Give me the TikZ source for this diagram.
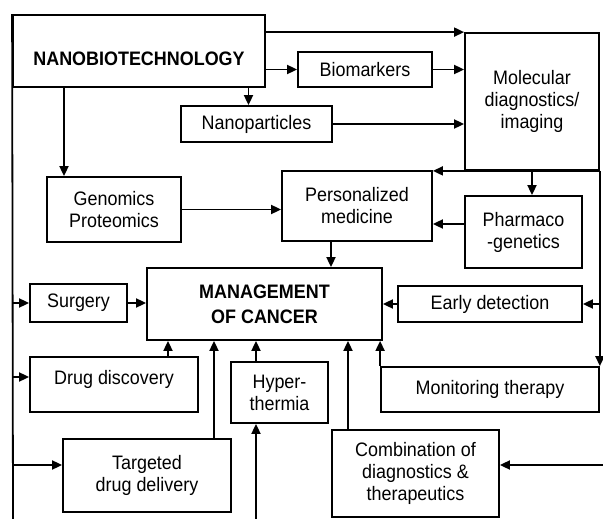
\documentclass[tikz,border=0pt]{standalone}
\usepackage{fontspec}
\setmainfont{Liberation Sans}[FakeStretch=0.92]
\usetikzlibrary{arrows.meta}

\begin{document}
\begin{tikzpicture}[x=1pt, y=-1pt,
  every node/.style={font=\fontsize{19.5}{22}\selectfont, align=center, inner sep=0pt},
  box/.style={draw, line width=1.8pt, rectangle},
  arr/.style={-{Triangle[length=10pt, width=9pt]}, line width=1.8pt},
  plain/.style={line width=1.8pt},
]
\useasboundingbox (0,0) rectangle (603,519);

% === Top row ===
\node[box, minimum width=252pt, minimum height=72pt, text height=30pt, text depth=0pt,
      font=\fontsize{19.5}{22}\selectfont\bfseries]
      (nano) at (139,51) {NANOBIOTECHNOLOGY};
\node[box, minimum width=134pt, minimum height=35pt] (bio) at (365,69.5) {Biomarkers};
\node[box, minimum width=151pt, minimum height=36pt] (np) at (256.5,124) {Nanoparticles};
\node[box, minimum width=134pt, minimum height=137pt]
      (mol) at (532,101.5) {Molecular\\diagnostics/\\imaging};

% === Middle row ===
\node[box, minimum width=134pt, minimum height=65pt] (gen) at (114,209.5) {Genomics\\Proteomics};
\node[box, minimum width=150pt, minimum height=70pt] (pers) at (357,206) {Personalized\\medicine};
\node[box, minimum width=117pt, minimum height=72pt] (pharm) at (523.5,232) {Pharmaco\\-genetics};

% === Management row ===
\node[box, minimum width=235pt, minimum height=72pt, font=\fontsize{19.5}{25}\selectfont\bfseries]
      (mgmt) at (264.5,304) {MANAGEMENT\\OF CANCER};
\node[box, minimum width=97pt, minimum height=38pt] (surg) at (78.5,303) {Surgery};
\node[box, minimum width=184pt, minimum height=36pt] (early) at (490,304) {Early detection};

% === Lower rows ===
\node[box, minimum width=168pt, minimum height=55pt, text height=14pt, text depth=14pt]
      (drug) at (114,384.5) {Drug discovery};
\node[box, minimum width=97pt, minimum height=61pt] (hyper) at (279.5,392.5) {Hyper-\\thermia};
\node[box, minimum width=218pt, minimum height=45pt] (mon) at (490,389.5) {Monitoring therapy};
\node[box, minimum width=168pt, minimum height=73pt] (targ) at (147,475.5) {Targeted\\drug delivery};
\node[box, minimum width=167pt, minimum height=87pt]
      (comb) at (415.5,473.5) {Combination of\\diagnostics \&\\therapeutics};

% === Free ends ===
\coordinate (lb) at (13,519);
\coordinate (hb) at (256,519);
\coordinate (re) at (603,465);

% === Arrows: nanobiotechnology ===
\draw[plain] (nano.north west) -- (lb);
\draw[arr] (nano.east |- mol.north) -- (mol.north west);
\draw[arr] (nano.east |- bio.west) -- (bio.west);
\draw[arr] (bio.east) -- (bio.east -| mol.west);
\draw[arr] ([xshift=-8pt]np.north |- nano.south) -- ([xshift=-8pt]np.north);
\draw[arr] (np.east) -- (np.east -| mol.west);
\draw[arr] ([xshift=-50pt]gen.north |- nano.south) -- ([xshift=-50pt]gen.north);

% === Arrows: diagnostics ===
\draw[arr] (gen.east) -- (gen.east -| pers.west);
\draw[arr] (mol.south east) -- (mol.south -| pers.east);
\draw[arr] (mol.south) -- (mol.south |- pharm.north);
\draw[arr] ([yshift=8pt]pharm.west) -- ([yshift=8pt]pharm.west -| pers.east);
\draw[arr] ([xshift=-26pt]pers.south) -- ([xshift=-26pt]pers.south |- mgmt.north);
\draw[arr] (mol.south east) -- (mon.north east);
\draw[arr] (early.east -| mon.east) -- (early.east);
\draw[arr] (early.west) -- (early.west -| mgmt.east);
\draw[arr] (mon.north west) -- (mon.north west |- mgmt.south);

% === Arrows: therapy ===
\draw[arr] (surg.west -| lb) -- (surg.west);
\draw[arr] (surg.east) -- (surg.east -| mgmt.west);
\draw[arr] ([yshift=7.5pt]drug.west -| lb) -- ([yshift=7.5pt]drug.west);
\draw[arr] ([xshift=54pt]drug.north) -- ([xshift=54pt]drug.north |- mgmt.south);
\draw[arr] ([yshift=10.5pt]targ.west -| lb) -- ([yshift=10.5pt]targ.west);
\draw[arr] ([xshift=67pt]targ.north) -- ([xshift=67pt]targ.north |- mgmt.south);
\draw[arr] (hb) -- (hb |- hyper.south);
\draw[arr] (hb |- hyper.north) -- (hb |- mgmt.south);
\draw[arr] (re) -- (re -| comb.east);
\draw[arr] ([xshift=-67.5pt]comb.north) -- ([xshift=-67.5pt]comb.north |- mgmt.south);

\end{tikzpicture}
\end{document}
